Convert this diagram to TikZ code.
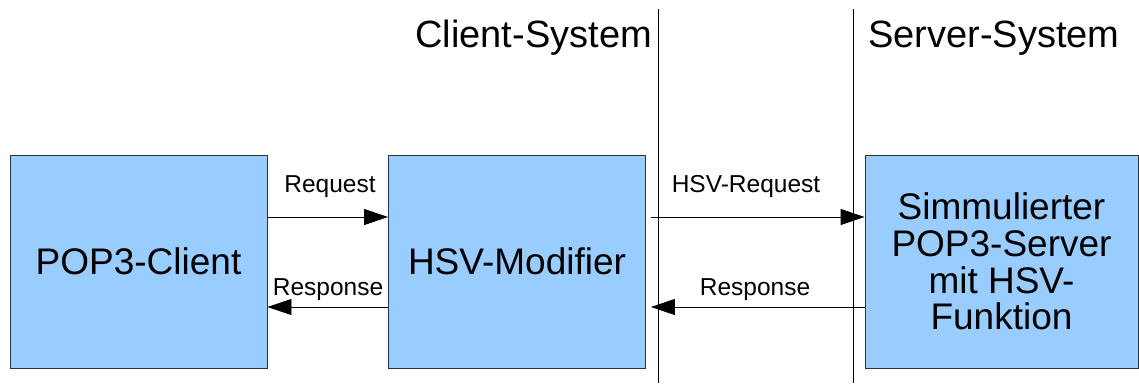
\documentclass[tikz,border=0pt]{standalone}
\usepackage{fontspec}
\setmainfont{Liberation Sans}
\usetikzlibrary{arrows.meta}
\definecolor{boxblue}{HTML}{99CCFF}
\definecolor{boxline}{HTML}{333333}
\begin{document}
\begin{tikzpicture}[x=1pt,y=-1pt,
  box/.style={draw=boxline,line width=0.9pt,fill=boxblue,minimum width=257pt,minimum height=213pt,inner sep=0pt,align=center,font=\fontsize{37}{36.7}\selectfont},
  lbl/.style={inner sep=0pt,font=\fontsize{24.5}{28}\selectfont},
  ttl/.style={inner sep=0pt,font=\fontsize{38}{42}\selectfont},
  arr/.style={line width=0.9pt,-{Triangle[length=24pt,width=16pt]}},
  sep/.style={line width=0.9pt}]
\useasboundingbox (0,0) rectangle (1139,383);
% boxes
\node[box] (b1) at (138.5,261.5) {POP3-Client};
\node[box] (b2) at (517,261.5) {HSV-Modifier};
\node[box,minimum width=273pt] (b3) at (1001.5,261.5) {Simmulierter\\POP3-Server\\mit HSV-\\Funktion};
% separator lines
\coordinate (s1t) at (658,9);
\coordinate (s1b) at (658,383);
\coordinate (s2t) at (853,9);
\coordinate (s2b) at (853,383);
\draw[sep] (s1t) -- (s1b);
\draw[sep] (s2t) -- (s2b);
% titles
\node[ttl,anchor=base east] (t1) at (652,47) {Client-System};
\node[ttl,anchor=base west] (t2) at (868,47) {Server-System};
% connectors
\draw[arr] ([yshift=44.5pt]b1.east) -- ([yshift=44.5pt]b2.west);
\draw[arr] ([yshift=-45.5pt]b2.west) -- ([yshift=-45.5pt]b1.east);
\draw[arr] ([xshift=5pt,yshift=44.5pt]b2.east) -- ([yshift=44.5pt]b3.west);
\draw[arr] ([yshift=-45.5pt]b3.west) -- ([xshift=5pt,yshift=-45.5pt]b2.east);
% labels
\node[lbl,anchor=base] (l1) at (330,192) {Request};
\node[lbl,anchor=base] (l2) at (328,295) {Response};
\node[lbl,anchor=base] (l3) at (746,192) {HSV-Request};
\node[lbl,anchor=base] (l4) at (755,295) {Response};
\end{tikzpicture}
\end{document}
